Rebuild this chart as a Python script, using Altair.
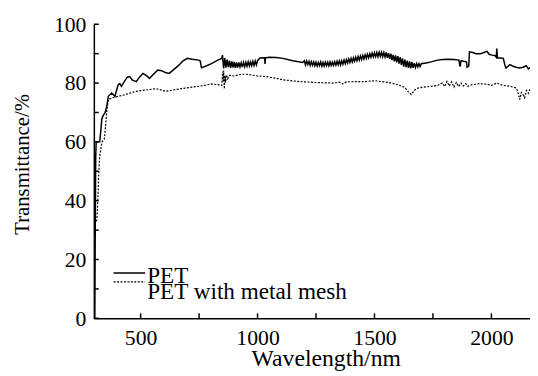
import altair as alt
import pandas as pd

# ---- data ----
pet_wl = ([304, 306, 308, 310, 325, 330, 334, 340, 348, 355, 362, 376, 390, 404, 411, 418, 430, 443, 453, 465,
           481, 495, 510, 525, 538, 555, 573, 590, 605, 622, 640, 664, 680, 700, 720, 749, 755, 760, 780, 805,
           830, 847]
          + list(range(850, 1001, 5))
          + [1010, 1030, 1032, 1034, 1050, 1080, 1109, 1150, 1193]
          + list(range(1200, 1701, 5))
          + [1720, 1742, 1770, 1790, 1812, 1840, 1861, 1866, 1870, 1880, 1893, 1896, 1903,
             1906, 1920, 1935, 1953, 1965, 1981, 1990, 2002, 2015, 2021, 2023, 2026, 2040, 2051, 2058, 2062,
             2079, 2090, 2105, 2121, 2135, 2149, 2158, 2165])
pet_t = [0, 30, 55, 60, 60, 64, 67.8, 69, 69.9, 72, 75.5, 76.6, 75.5, 79.4, 79.8, 78.9, 80.5, 82, 82.2, 81,
         80.5, 82, 83.3, 82.5, 81.6, 83, 84.4, 84.2, 83.6, 83.3, 84.5, 86.1, 87.5, 88.4, 88.1, 87.8, 87.5, 85.2, 85.8, 86.7,
         87.8, 88.4,
         # 850-1000 (noisy)
         89.5, 85.0, 88.5, 85.2, 88.0, 85.4, 87.6, 85.2, 87.4, 85.3,
         87.2, 85.2, 87.0, 85.3, 87.0, 85.5, 86.9, 85.4, 87.0, 85.6,
         87.1, 85.7, 87.2, 85.8, 87.2, 85.9, 87.4, 86.0, 87.5, 86.2,
         87.6,
         88.5, 88.6, 86.5, 88.6, 88.8, 88.7, 88.4, 87.6, 87.0,
         # 1200-1700 (noisy)
         87.6, 86.2, 87.5, 86.3, 87.4, 86.0, 87.3, 86.1, 87.2, 85.9,
         87.1, 85.8, 87.0, 85.9, 87.2, 85.7, 87.0, 85.8, 87.1, 85.9,
         87.1, 85.8, 87.2, 86.0, 87.1, 86.0, 87.3, 86.1, 87.4, 86.2,
         87.5, 86.2, 87.6, 86.4, 87.8, 86.6, 88.0, 86.8, 88.2, 87.0,
         88.4, 87.2, 88.6, 87.4, 88.8, 87.6, 89.0, 87.8, 89.2, 88.0,
         89.4, 88.2, 89.6, 88.4, 89.8, 88.6, 90.0, 88.8, 90.2, 88.9,
         90.3, 89.0, 90.4, 89.0, 90.5, 89.1, 90.5, 89.0, 90.4, 88.9,
         90.4, 88.6, 90.2, 88.2, 90.0, 87.8, 89.6, 87.4, 89.4, 87.0,
         89.2, 86.6, 88.8, 86.2, 88.4, 85.6, 88.0, 85.4, 87.6, 85.2,
         87.4, 85.0, 87.2, 85.2, 86.8, 85.3, 86.6, 85.5, 86.6, 85.6,
         86.6,
         86.8, 87.2, 87.8, 88.0, 88.1, 88.0, 87.8, 85.6, 87.6, 87.4, 87.2, 85.4, 85.8,
         90.6, 90.4, 90.0, 90.0, 90.3, 90.8, 89.8, 89.5, 89.4, 88.8, 91.7, 88.6, 88.5, 88.4, 86.0, 85.1,
         86.3, 85.8, 85.4, 85.1, 85.4, 85.9, 84.8, 85.3]

mesh_wl = [310, 313, 317, 320, 325, 328, 335, 345, 352, 355, 362, 380, 404, 430, 481, 500, 540, 565, 580, 607,
           650, 690, 749, 790, 805, 835, 847, 851, 853, 855, 858, 860, 863, 867, 872, 880, 900, 930, 954, 1000,
           1038, 1080, 1109, 1179, 1250, 1320, 1350, 1365, 1380, 1420, 1460, 1502, 1560, 1601, 1630, 1645, 1657,
           1670, 1686, 1720, 1742, 1770, 1790, 1800, 1810, 1820, 1830, 1840, 1850, 1860, 1870, 1880, 1890,
           1900, 1915, 1950, 1981, 2000, 2023, 2050, 2079, 2107, 2115, 2121, 2128, 2135, 2142, 2150, 2158, 2165]
mesh_t = [33, 33.5, 40, 47.6, 55, 56.5, 60, 61, 67, 70.5, 74.4, 75.0, 75.5, 76, 77.2, 77.4, 77.8, 78.1, 77.8, 77.2,
          77.8, 78.3, 78.9, 79.5, 79.7, 79.4, 79.2, 83.9, 80.5, 84.3, 78, 82.5, 80.2, 82.8, 81.4, 82.6, 82.4, 83, 83, 82.4,
          82.2, 81.6, 81.1, 80.5, 80.2, 80.0, 80.3, 79.7, 80.4, 80.5, 80.5, 80.8, 80.2, 79.4, 78.5, 77, 76.1,
          77.5, 78.3, 78.7, 78.9, 79.2, 80.0, 78.8, 80.6, 79.0, 80.4, 78.6, 80.2, 78.8, 80.0, 79.0, 79.8,
          78.9, 79.4, 79.8, 79.6, 79.2, 80, 79.2, 78.9, 78.3, 76.5, 74.4, 76.8, 76.1, 75.0, 77.5, 76.5, 78.0]

x_label_vals = [500, 1000, 1500, 2000]
x_tick_vals = [500, 750, 1000, 1250, 1500, 1750, 2000]
y_label_vals = [0, 20, 40, 60, 80, 100]
y_tick_vals = [0, 10, 20, 30, 40, 50, 60, 70, 80, 90, 100]
legend_labels = ["PET", "PET with metal mesh"]

FONT = "Liberation Serif"
W, H = 442, 298

pet = pd.DataFrame({"wl": pet_wl, "t": pet_t})
mesh = pd.DataFrame({"wl": mesh_wl, "t": mesh_t})

xscale = alt.Scale(domain=[300, 2165], nice=False, zero=False)
yscale = alt.Scale(domain=[0, 100], nice=False)

xaxis = alt.Axis(values=x_label_vals, format="d", title="Wavelength/nm", labelPadding=10, ticks=False, grid=False,
                 titleX=235, titleY=48, titleBaseline="alphabetic", titleAlign="center",
                 labelFlush=False)
yaxis = alt.Axis(values=y_label_vals, format="d", title="Transmittance/%", labelPadding=8, ticks=False, grid=False,
                 titleX=-66, titleY=141.5, titleAngle=270, titleBaseline="alphabetic", titleAlign="center")


def X(f):
    return alt.X(f, scale=xscale, axis=xaxis)


def Y(f):
    return alt.Y(f, scale=yscale, axis=yaxis)


pet_line = alt.Chart(pet).mark_line(color="black", strokeWidth=1.5, clip=True).encode(
    x=X("wl:Q"), y=Y("t:Q"), order="wl:Q")
mesh_line = alt.Chart(mesh).mark_line(color="black", strokeWidth=1.2, strokeDash=[2, 1.5], clip=True).encode(
    x=X("wl:Q"), y=Y("t:Q"), order="wl:Q")

xt = alt.Chart(pd.DataFrame({"wl": x_tick_vals})).mark_rule(color="black", strokeWidth=1.5).encode(
    x=X("wl:Q"), y=alt.value(H), y2=alt.value(H - 5))
yt = alt.Chart(pd.DataFrame({"t": y_tick_vals})).mark_rule(color="black", strokeWidth=1.5).encode(
    y=Y("t:Q"), x=alt.value(0), x2=alt.value(5))

leg_df1 = pd.DataFrame({"label": [legend_labels[0]]})
leg_df2 = pd.DataFrame({"label": [legend_labels[1]]})
leg_l1 = alt.Chart(leg_df1).mark_rule(color="black", strokeWidth=1.5).encode(
    x=alt.value(20), x2=alt.value(52), y=alt.value(252))
leg_l2 = alt.Chart(leg_df2).mark_rule(color="black", strokeWidth=1.2, strokeDash=[2, 1.5]).encode(
    x=alt.value(20), x2=alt.value(52), y=alt.value(261))
leg_t1 = alt.Chart(leg_df1).mark_text(font=FONT, fontSize=23.5, align="left", baseline="middle", color="black").encode(
    text="label:N", x=alt.value(54), y=alt.value(255))
leg_t2 = alt.Chart(leg_df2).mark_text(font=FONT, fontSize=23.5, align="left", baseline="middle", color="black").encode(
    text="label:N", x=alt.value(54), y=alt.value(271))

chart = alt.layer(pet_line, mesh_line, xt, yt, leg_l1, leg_l2, leg_t1, leg_t2).properties(
    width=W, height=H,
    autosize=alt.AutoSizeParams(type="none"),
    padding={"left": 87, "top": 14, "right": 0, "bottom": 56},
).configure_view(stroke=None).configure_axis(
    domainColor="black", domainWidth=1.5, labelFont=FONT, labelFontSize=22, labelColor="black",
    titleFont=FONT, titleFontWeight="normal", titleColor="black",
).configure_axisX(titleFontSize=24).configure_axisY(titleFontSize=21)

chart.save("out.html", embed_options={"renderer": "svg", "actions": False})
